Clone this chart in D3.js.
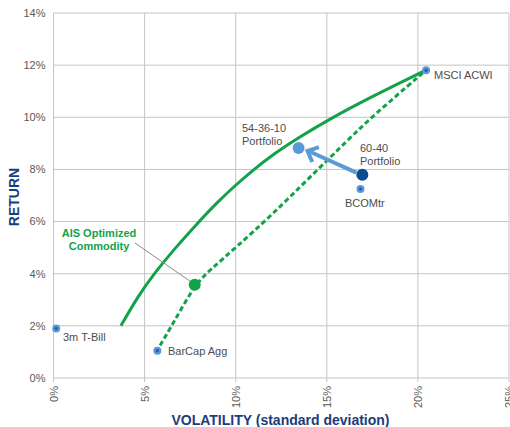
<!DOCTYPE html>
<html lang="en">
<head>
<meta charset="UTF-8">
<title>Risk / Return</title>
<script src="https://d3js.org/d3.v7.min.js"></script>
<style>
  body { margin: 0; background: #fff; }
  text { font-family: "Liberation Sans", Arial, sans-serif; }
</style>
</head>
<body>
<div id="chart"></div>
<script>
// volatility ticks and return ticks (percent)
const xTicks = [0, 5, 10, 15, 20, 25];
const yTicks = [0, 2, 4, 6, 8, 10, 12, 14];

// asset points
const assetNames = ["3m T-Bill", "BarCap Agg", "MSCI ACWI", "BCOMtr"];
const assetVol = [0.15, 5.7, 20.45, 16.85];
const assetRet = [1.9, 1.05, 11.8, 7.25];

// portfolios
const pfNames = ["60-40 Portfolio", "54-36-10 Portfolio", "AIS Optimized Commodity"];
const pfVol = [16.95, 13.45, 7.75];
const pfRet = [7.8, 8.82, 3.58];

// efficient frontier with commodity (solid)
const solidVol = [3.7, 4.6, 5.57, 6.7, 7.85, 9.0, 10.0, 10.9, 12.1, 13.4, 15.2, 17.2, 20.35];
const solidRet = [2.0, 3.1, 4.05, 5.0, 5.9, 6.75, 7.4, 7.95, 8.6, 9.2, 9.95, 10.7, 11.78];

// efficient frontier without commodity (dashed)
const dashVol = [5.85, 6.57, 7.76, 8.6, 10.0, 11.9, 14.0, 16.25, 17.45, 20.3];
const dashRet = [1.25, 2.1, 3.58, 4.15, 5.0, 6.2, 7.65, 9.19, 10.0, 11.72];

const width = 510, height = 427;
const green = "#12a24a";
const lightBlue = "#5b9bd5";
const navy = "#1c3d7a";

const svg = d3.select("#chart").append("svg")
  .attr("width", width)
  .attr("height", height);

const x = d3.scaleLinear().domain([0, 25]).range([53.5, 509]);
const y = d3.scaleLinear().domain([0, 14]).range([378, 13]);

// grid
svg.append("g").selectAll("line")
  .data(xTicks)
  .join("line")
  .attr("x1", d => x(d)).attr("x2", d => x(d))
  .attr("y1", y(14)).attr("y2", y(0) + 4)
  .attr("stroke", "#c4c4c4").attr("stroke-width", 1);

svg.append("g").selectAll("line")
  .data(yTicks)
  .join("line")
  .attr("x1", x(0)).attr("x2", x(25))
  .attr("y1", d => y(d)).attr("y2", d => y(d))
  .attr("stroke", "#c4c4c4").attr("stroke-width", 1);

// tick labels
svg.append("g").selectAll("text")
  .data(yTicks)
  .join("text")
  .attr("x", 45.5)
  .attr("y", d => y(d))
  .attr("dy", "0.35em")
  .attr("text-anchor", "end")
  .attr("font-size", 11)
  .attr("fill", "#595959")
  .text(d => d + "%");

svg.append("g").selectAll("text")
  .data(xTicks)
  .join("text")
  .attr("transform", d => `translate(${x(d) + 4},386) rotate(-90)`)
  .attr("text-anchor", "end")
  .attr("font-size", 11)
  .attr("fill", "#595959")
  .text(d => d + "%");

// axis titles
svg.append("text")
  .attr("x", 280.5).attr("y", 425)
  .attr("text-anchor", "middle")
  .attr("font-size", 14).attr("font-weight", "bold")
  .attr("fill", navy)
  .text("VOLATILITY (standard deviation)");

svg.append("text")
  .attr("transform", "translate(19,197) rotate(-90)")
  .attr("text-anchor", "middle")
  .attr("font-size", 14).attr("font-weight", "bold")
  .attr("fill", navy)
  .text("RETURN");

// frontiers
const line = d3.line()
  .x(d => x(d[0]))
  .y(d => y(d[1]))
  .curve(d3.curveBasis);

svg.append("path")
  .attr("d", line(d3.zip(solidVol, solidRet)))
  .attr("fill", "none")
  .attr("stroke", green)
  .attr("stroke-width", 3);

svg.append("path")
  .attr("d", line(d3.zip(dashVol, dashRet)))
  .attr("fill", "none")
  .attr("stroke", green)
  .attr("stroke-width", 3)
  .attr("stroke-dasharray", "5,3");

// leader line to AIS point
svg.append("line")
  .attr("x1", 135).attr("y1", 243)
  .attr("x2", x(pfVol[2]) - 4).attr("y2", y(pfRet[2]) - 3)
  .attr("stroke", "#8c8c8c").attr("stroke-width", 1);

// arrow from 60-40 to 54-36-10
const ax1 = x(pfVol[0]) - 6, ay1 = y(pfRet[0]) - 2;
const ax2 = x(pfVol[1]) + 9, ay2 = y(pfRet[1]) + 3;
svg.append("line")
  .attr("x1", ax1).attr("y1", ay1)
  .attr("x2", ax2 + 3).attr("y2", ay2 + 1)
  .attr("stroke", lightBlue).attr("stroke-width", 4);
const ang = Math.atan2(ay1 - ay2, ax1 - ax2);
const hl = 12, spread = 0.75;
svg.append("path")
  .attr("d", `M${ax2 + hl * Math.cos(ang - spread)},${ay2 + hl * Math.sin(ang - spread)}
              L${ax2},${ay2}
              L${ax2 + hl * Math.cos(ang + spread)},${ay2 + hl * Math.sin(ang + spread)}`)
  .attr("fill", "none")
  .attr("stroke", lightBlue).attr("stroke-width", 4)
  .attr("stroke-linejoin", "miter");

// asset points
svg.append("g").selectAll("circle")
  .data(assetNames)
  .join("circle")
  .attr("cx", (d, i) => x(assetVol[i]))
  .attr("cy", (d, i) => y(assetRet[i]))
  .attr("r", 4)
  .attr("fill", lightBlue);
svg.append("g").selectAll("circle")
  .data(assetNames)
  .join("circle")
  .attr("cx", (d, i) => x(assetVol[i]))
  .attr("cy", (d, i) => y(assetRet[i]))
  .attr("r", 1.8)
  .attr("fill", "#2e5fb8");

// portfolio points
const pfColors = ["#0d4a8f", lightBlue, green];
svg.append("g").selectAll("circle")
  .data(pfNames)
  .join("circle")
  .attr("cx", (d, i) => x(pfVol[i]))
  .attr("cy", (d, i) => y(pfRet[i]))
  .attr("r", 6)
  .attr("fill", (d, i) => pfColors[i]);

// labels
const labels = [
  {lines: ["3m T-Bill"], x: 63, y: 341},
  {lines: ["BarCap Agg"], x: 168, y: 355},
  {lines: ["MSCI ACWI"], x: 434, y: 79},
  {lines: ["BCOMtr"], x: 345, y: 207},
  {lines: ["60-40", "Portfolio"], x: 360, y: 152},
  {lines: ["54-36-10", "Portfolio"], x: 242, y: 132}
];
labels.forEach(l => {
  const t = svg.append("text")
    .attr("x", l.x).attr("y", l.y)
    .attr("font-size", 11)
    .attr("fill", "#4d4d4d");
  l.lines.forEach((s, i) => {
    t.append("tspan").attr("x", l.x).attr("dy", i ? 12.5 : 0).text(s);
  });
});

const ais = svg.append("text")
  .attr("x", 99).attr("y", 237)
  .attr("text-anchor", "middle")
  .attr("font-size", 11).attr("font-weight", "bold")
  .attr("fill", green);
ais.append("tspan").attr("x", 99).text("AIS Optimized");
ais.append("tspan").attr("x", 99).attr("dy", 12.5).text("Commodity");
</script>
</body>
</html>
